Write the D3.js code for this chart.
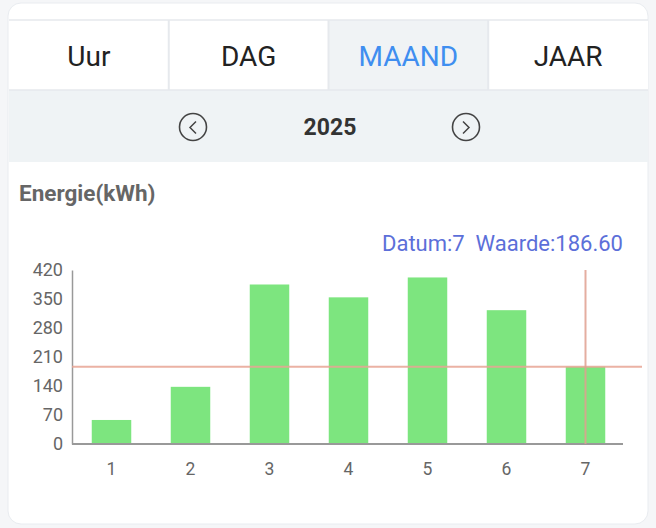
<!DOCTYPE html>
<html><head><meta charset="utf-8">
<script src="https://cdn.jsdelivr.net/npm/d3@7/dist/d3.min.js"></script>
<style>
html,body{margin:0;padding:0;background:#f5f6f8;}
svg{display:block;font-family:Roboto,"Noto Sans",sans-serif;}
</style></head>
<body><svg id="c" width="656" height="528"></svg>
<script>
const tabs = ["Uur","DAG","MAAND","JAAR"];
const activeTab = "MAAND";
const year = "2025";
const yLabel = "Energie(kWh)";
const categories = ["1","2","3","4","5","6","7"];
const values = [58, 138, 385, 354, 402, 323, 186.6];
const yTicks = [0,70,140,210,280,350,420];
const selected = "7";
const selectedValue = 186.60;

const svg = d3.select("#c");
// card
svg.append("rect").attr("x",8).attr("y",3).attr("width",640).attr("height",521)
  .attr("rx",13).attr("fill","#fff").attr("stroke","#e9ecf0");
// tabs
const tabX = d3.scaleBand().domain(tabs).range([9,648]);
tabs.forEach(t=>{
  const x=tabX(t), w=tabX.bandwidth();
  svg.append("rect").attr("x",x).attr("y",20).attr("width",w).attr("height",70)
    .attr("fill", t===activeTab?"#f0f3f5":"#fff");
  svg.append("text").attr("x",x+w/2).attr("y",66).attr("text-anchor","middle")
    .attr("font-size",28).attr("fill",t===activeTab?"#3f8ef0":"#222").text(t);
});
svg.append("line").attr("x1",9).attr("x2",648).attr("y1",20).attr("y2",20).attr("stroke","#e6e9ed").attr("stroke-width",1.5);
tabs.slice(1).forEach(t=>{
  svg.append("line").attr("x1",tabX(t)).attr("x2",tabX(t)).attr("y1",20).attr("y2",90).attr("stroke","#e6e9ed").attr("stroke-width",2);
});
// year row
svg.append("rect").attr("x",9).attr("y",90).attr("width",639).attr("height",72).attr("fill","#eff3f5");
svg.append("line").attr("x1",9).attr("x2",648).attr("y1",90).attr("y2",90).attr("stroke","#e6e9ed").attr("stroke-width",1.5);
svg.append("text").attr("x",330).attr("y",135).attr("text-anchor","middle").attr("font-size",23)
  .attr("font-weight","bold").attr("fill","#333").text(year);
[[193,-1],[466,1]].forEach(([cx,d])=>{
  svg.append("circle").attr("cx",cx).attr("cy",127).attr("r",13.5).attr("fill","none").attr("stroke","#444").attr("stroke-width",1.6);
  svg.append("path").attr("d",`M${cx-3*d},${121.5}L${cx+3*d},${127.5}L${cx-3*d},${133.5}`)
    .attr("fill","none").attr("stroke","#444").attr("stroke-width",1.5);
});
// title
svg.append("text").attr("x",19).attr("y",201).attr("font-size",22.5).attr("font-weight","bold")
  .attr("fill","#666").text(yLabel);

const x = d3.scaleBand().domain(categories).range([72,625]).paddingInner(0.5).paddingOuter(0.25);
const y = d3.scaleLinear().domain([0,420]).range([444,270]);

// bars
svg.append("g").selectAll("rect").data(values).join("rect")
  .attr("x",(d,i)=>x(categories[i])).attr("width",x.bandwidth())
  .attr("y",d=>y(d)).attr("height",d=>y(0)-y(d)).attr("fill","#7de57f");

// axes
const yAxis = svg.append("g").attr("transform","translate(72,0)")
  .call(d3.axisLeft(y).tickValues(yTicks).tickSize(0).tickPadding(9));
yAxis.select(".domain").attr("stroke","#999").attr("stroke-width",1.5);
yAxis.selectAll("text").attr("font-size",18).attr("fill","#666").attr("font-family","Roboto,sans-serif");
const xAxis = svg.append("g").attr("transform","translate(0,444)")
  .call(d3.axisBottom(x).tickSize(0).tickPadding(19));
xAxis.select(".domain").attr("stroke","#999").attr("stroke-width",2).attr("d","M72,0H623");
xAxis.selectAll("text").attr("font-size",17.5).attr("fill","#666").attr("font-family","Roboto,sans-serif");

// crosshair
const cx = x(selected)+x.bandwidth()/2;
svg.append("line").attr("x1",72).attr("x2",642).attr("y1",y(selectedValue)).attr("y2",y(selectedValue))
  .attr("stroke","#e8a595").attr("stroke-width",2).attr("opacity",0.85);
svg.append("line").attr("x1",cx).attr("x2",cx).attr("y1",270).attr("y2",444)
  .attr("stroke","#e0a090").attr("stroke-width",2).attr("opacity",0.85);
svg.append("text").attr("x",623).attr("y",251).attr("text-anchor","end").attr("font-size",22)
  .attr("fill","#5c6fd9").attr("xml:space","preserve")
  .text(`Datum:${selected}  Waarde:${selectedValue.toFixed(2)}`);
</script></body></html>
